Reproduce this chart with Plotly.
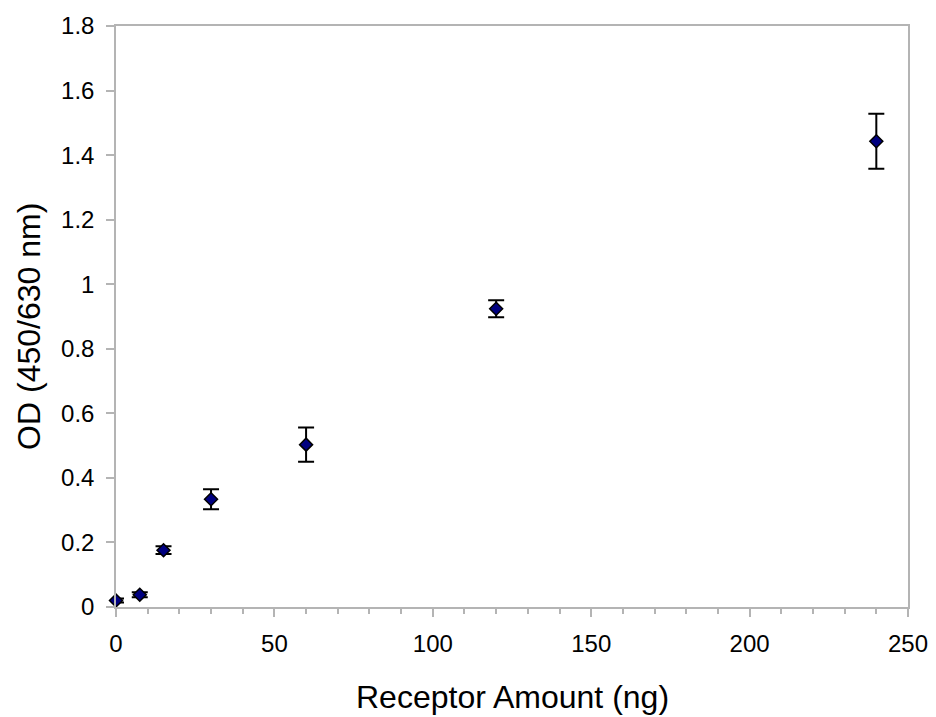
import plotly.graph_objects as go

receptor_ng = [0, 7.5, 15, 30, 60, 120, 240]
od_values = [0.020, 0.038, 0.176, 0.334, 0.503, 0.924, 1.443]
od_errors = [0.006, 0.008, 0.012, 0.031, 0.053, 0.026, 0.085]

x_ticks = [0, 50, 100, 150, 200, 250]
y_ticks = [0, 0.2, 0.4, 0.6, 0.8, 1, 1.2, 1.4, 1.6, 1.8]

FONT = "Liberation Sans, Arial, sans-serif"

fig = go.Figure()
fig.add_trace(go.Scatter(
    x=receptor_ng, y=od_values, mode="markers",
    marker=dict(symbol="diamond", size=10, color="#000080",
                line=dict(color="black", width=1.5)),
    error_y=dict(type="data", array=od_errors, visible=True,
                 color="black", thickness=2, width=8),
    cliponaxis=False, showlegend=False,
))

axis_common = dict(showline=True, linecolor="#b4b4b4", linewidth=1.5,
                   mirror=True, showgrid=False, zeroline=False, automargin=False,
                   ticks="outside", tickcolor="#b4b4b4", ticklen=8, tickwidth=1.5,
                   tickfont=dict(family=FONT, size=24, color="black"))

fig.update_xaxes(range=[0, 250], tickvals=x_ticks, ticklabelstandoff=6,
                 minor=dict(dtick=10, ticks="outside", ticklen=5, tickcolor="#b4b4b4", tickwidth=1.5),
                 **axis_common)
fig.update_yaxes(range=[0, 1.8], tickvals=y_ticks, ticklabelstandoff=7,
                 **axis_common)

fig.add_annotation(text="Receptor Amount (ng)", xref="paper", yref="paper",
                   x=0.5, y=-0.155, xanchor="center", yanchor="middle", showarrow=False,
                   font=dict(family=FONT, size=32, color="black"))
fig.add_annotation(text="OD (450/630 nm)", xref="paper", yref="paper",
                   x=-0.11, y=0.4836, xanchor="center", yanchor="middle", showarrow=False,
                   textangle=-90, font=dict(family=FONT, size=32, color="black"))

fig.update_layout(width=936, height=717, plot_bgcolor="white", paper_bgcolor="white",
                  margin=dict(l=108, r=36, t=18, b=118))

fig.write_html("out.html")
